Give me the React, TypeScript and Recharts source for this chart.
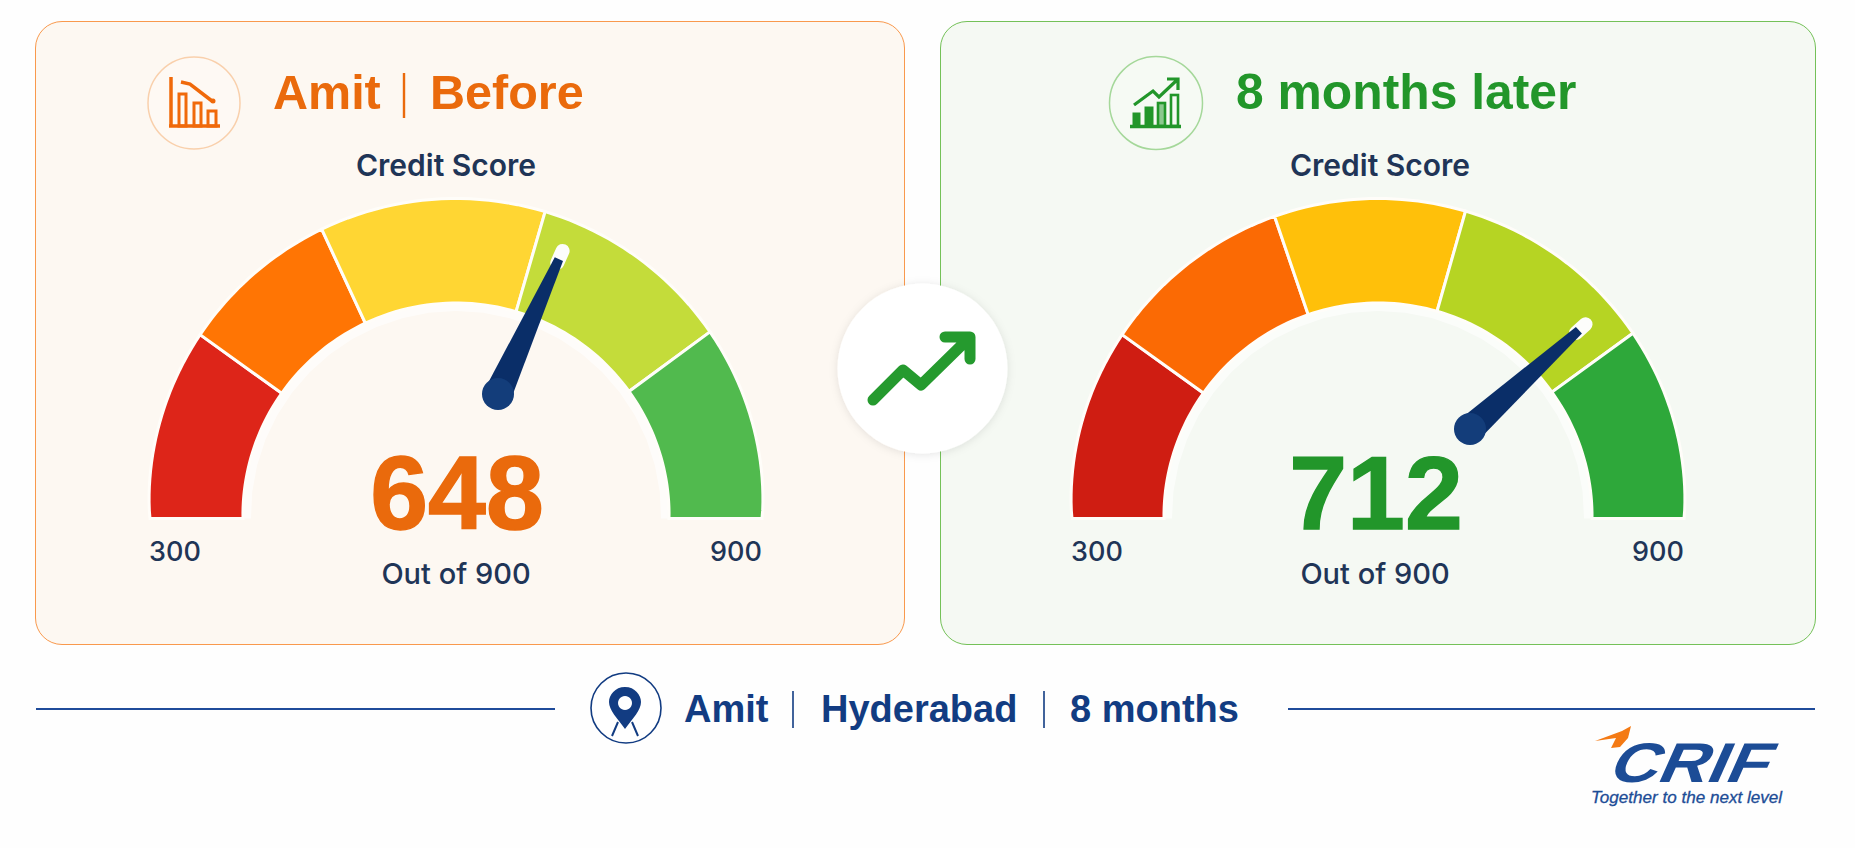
import { Pie, PieChart } from "recharts";

const bandNames = ["Poor", "Fair", "Average", "Good", "Excellent"];
const beforeBandWidths = [119, 98, 137, 125, 121];
const afterBandWidths = [119, 118, 116, 127, 120];
const beforeColors = ["#dd2519", "#ff7504", "#ffd633", "#c4dc3a", "#51ba4e"];
const afterColors = ["#cf1d12", "#fb6a04", "#ffc00a", "#b6d423", "#2ea83a"];
const scoreRange = [600];

const FONT = "Inter, sans-serif";
const ARIAL = "'Liberation Sans', sans-serif";
const NAVY = "#1f3557";
const BLUE = "#123c82";
const ORANGE = "#ea6a0c";
const GREEN = "#22962a";

const toTable = (values: number[], colors: string[]) =>
  values.map((value, i) => ({ name: bandNames[i], value, fill: colors[i] }));

// the arc in the picture is taller than wide and has full shoulders, so the radius grows with the angle
const arcPoints = (cx: number, cy: number, rx: number, ry: number, from: number, to: number) => {
  const pts: string[] = [];
  for (let i = 0; i <= 24; i++) {
    const a = ((from + ((to - from) * i) / 24) * Math.PI) / 180;
    const r = rx + (ry - rx) * Math.abs(Math.sin(a)) ** 0.8;
    pts.push(`${cx + r * Math.cos(a)},${cy - r * Math.sin(a)}`);
  }
  return pts;
};

const gaugeSector = (ryOuter: number, ryInner: number, stroke: string, strokeWidth: number, opacity = 1) => (props: any) => {
  const { cx, cy, innerRadius, outerRadius, startAngle, endAngle, fill } = props;
  const outer = arcPoints(cx, cy, outerRadius, ryOuter, startAngle, endAngle);
  const inner = arcPoints(cx, cy, innerRadius, ryInner, endAngle, startAngle);
  return <path d={`M${outer.join(" L")} L${inner.join(" L")} Z`} fill={fill} fillOpacity={opacity} stroke={stroke} strokeWidth={strokeWidth} />;
};

function Needle({ x, y, angle, length }: { x: number; y: number; angle: number; length: number }) {
  const a = (angle * Math.PI) / 180;
  const ux = Math.cos(a);
  const uy = -Math.sin(a);
  const tipX = x + ux * length;
  const tipY = y + uy * length;
  const side = (px: number, py: number, w: number) => `${px - uy * w},${py + ux * w} ${px + uy * w},${py - ux * w}`;
  return (
    <g>
      <line x1={tipX - ux * 4} y1={tipY - uy * 4} x2={tipX + ux * 9} y2={tipY + uy * 9} stroke="#fdfdfb" strokeWidth={14} strokeLinecap="round" />
      <polygon points={`${side(x, y, 14)} ${side(tipX, tipY, 4.5).split(" ").reverse().join(" ")}`} fill="#0a2e68" />
      <circle cx={x} cy={y} r={16} fill="#133d7a" />
    </g>
  );
}

function Card({ left, width, bg, border }: { left: number; width: number; bg: string; border: string }) {
  return (
    <div
      style={{
        position: "absolute",
        left,
        top: 21,
        width,
        height: 624,
        boxSizing: "border-box",
        background: bg,
        border: `1.6px solid ${border}`,
        borderRadius: 27,
      }}
    />
  );
}

function GaugeText({ cx, scoreX, score, color, lowX, highX }: { cx: number; scoreX: number; score: string; color: string; lowX: number; highX: number }) {
  return (
    <g fontFamily={FONT}>
      <text x={cx} y={176} textAnchor="middle" fontSize={30} fontWeight={600} fill={NAVY}>Credit Score</text>
      <text x={scoreX} y={529} textAnchor="middle" fontFamily={ARIAL} fontSize={104} fontWeight={700} fill={color} stroke={color} strokeWidth={1.4}>{score}</text>
      <text x={lowX} y={561} textAnchor="middle" fontSize={27} fontWeight={500} fill={NAVY}>300</text>
      <text x={highX} y={561} textAnchor="middle" fontSize={27} fontWeight={500} fill={NAVY}>900</text>
      <text x={scoreX - 1} y={584} textAnchor="middle" fontSize={29} fontWeight={500} fill={NAVY}>Out of 900</text>
    </g>
  );
}

const Overlay = () => (
  <svg width={1855} height={848} style={{ position: "absolute", left: 0, top: 0 }}>
    <defs>
      <filter id="soft" x="-20%" y="-20%" width="140%" height="140%">
        <feDropShadow dx="0" dy="1" stdDeviation="4" floodColor="#000" floodOpacity="0.1" />
      </filter>
    </defs>

    {/* left header */}
    <circle cx={194} cy={103} r={46} fill="#fef9f4" stroke="#f9d0ac" strokeWidth={1.5} />
    <g fill="none" stroke="#f0690a" strokeWidth={3}>
      <path d="M171,77 V126 M169,126 H220" strokeWidth={3.5} />
      <rect x={179} y={94} width={7} height={32} />
      <rect x={194} y={103} width={7} height={23} />
      <rect x={208} y={111} width={8} height={15} />
      <path d="M181,82 L190,84 L212,101" strokeWidth={3.5} />
    </g>
    <circle cx={213} cy={101} r={2.5} fill="#f0690a" />
    <text fontFamily={ARIAL} fontSize={48.5} fontWeight={700} fill={ORANGE} y={109}>
      <tspan x={273}>Amit</tspan>
      <tspan x={430}>Before</tspan>
    </text>
    <line x1={404} y1={73} x2={404} y2={118} stroke={ORANGE} strokeWidth={2.4} />

    {/* right header */}
    <circle cx={1156} cy={103} r={46.5} fill="#f6faf4" stroke="#a5d89a" strokeWidth={1.5} />
    <g fill={GREEN} stroke={GREEN}>
      <path d="M1130,126.5 H1181" strokeWidth={3.5} />
      <rect x={1133} y={113} width={7} height={13} strokeWidth={1} />
      <rect x={1145} y={107} width={8} height={19} strokeWidth={1} />
      <rect x={1158} y={103} width={7} height={23} fillOpacity={0.5} strokeWidth={2.6} />
      <rect x={1171} y={95} width={7} height={31} fill="none" strokeWidth={2.6} />
      <path d="M1134,105 L1153,91 L1159,97 L1177,80 M1167,79 H1178 V90" fill="none" strokeWidth={3.2} />
    </g>
    <text x={1236} y={109} fontFamily={ARIAL} fontSize={49.8} fontWeight={700} fill={GREEN}>8 months later</text>

    <GaugeText cx={446} scoreX={457} score="648" color={ORANGE} lowX={175} highX={736} />
    <GaugeText cx={1380} scoreX={1376} score="712" color={GREEN} lowX={1097} highX={1658} />

    <Needle x={498} y={394} angle={65.7} length={148} />
    <Needle x={1470} y={429} angle={42.2} length={147} />

    {/* middle badge */}
    <circle cx={922.5} cy={368.5} r={85} fill="#fff" filter="url(#soft)" />
    <path d="M873,400 L903,370 L921,385 L970,337 M945,337 H970 V359" fill="none" stroke="#259a2e" strokeWidth={11} strokeLinecap="round" strokeLinejoin="round" />

    {/* footer */}
    <line x1={36} y1={709} x2={555} y2={709} stroke="#1f4b9a" strokeWidth={2} />
    <line x1={1288} y1={709} x2={1815} y2={709} stroke="#1f4b9a" strokeWidth={2} />
    <circle cx={626} cy={708} r={35} fill="#fff" stroke={BLUE} strokeWidth={1.6} />
    <path fillRule="evenodd" fill={BLUE} d="M625,687 c-10,0 -16,8 -16,15 c0,8 8,16 16,27 c8,-11 16,-19 16,-27 c0,-7 -6,-15 -16,-15 Z M625,696 a7,7 0 1 0 0.01,0 Z" />
    <path d="M618,722 L612,736 M632,722 L638,736" stroke={BLUE} strokeWidth={2} />
    <text fontFamily={ARIAL} fontSize={38} fontWeight={700} fill={BLUE} y={722}>
      <tspan x={684}>Amit</tspan>
      <tspan x={821}>Hyderabad</tspan>
      <tspan x={1070}>8 months</tspan>
    </text>
    <line x1={793} y1={691} x2={793} y2={728} stroke={BLUE} strokeWidth={1.6} />
    <line x1={1044} y1={691} x2={1044} y2={728} stroke={BLUE} strokeWidth={1.6} />

    {/* logo */}
    <path d="M1595,741 L1622,731 L1631,726 L1628,738 L1620,747 L1611,748 L1616,738 Z" fill="#f47a14" />
    <text transform="translate(1606,782) skewX(-24)" fontFamily={ARIAL} fontWeight={700} fontSize={56} fill="#1c4c96" textLength={158} lengthAdjust="spacingAndGlyphs">CRIF</text>
    <text x={1591} y={803} fontFamily={ARIAL} fontStyle="italic" fontSize={17} fill="#1c4c96" stroke="#1c4c96" strokeWidth={0.3} textLength={191} lengthAdjust="spacingAndGlyphs">Together to the next level</text>
  </svg>
);

export default function App() {
  const bandShape = gaugeSector(320, 215.5, "#fffdf9", 3);
  const haloShape = gaugeSector(215.5, 207.5, "none", 0, 0.6);
  const halo = [{ name: "range", value: scoreRange[0], fill: "#ffffff" }];
  return (
    <div style={{ position: "fixed", left: 0, top: 0, width: 1855, height: 848, background: "#fefefe", overflow: "hidden" }}>
      <Card left={35} width={870} bg="#fdf8f2" border="#f9994d" />
      <Card left={940} width={876} bg="#f5f9f3" border="#74c158" />
      <div style={{ position: "absolute", left: 0, top: 0 }}>
        <PieChart width={1855} height={848} margin={{ top: 0, right: 0, bottom: 0, left: 0 }}>
          <Pie data={halo} dataKey="value" cx={456} cy={518.5} startAngle={180} endAngle={0} innerRadius={205} outerRadius={213} stroke="none" shape={haloShape} isAnimationActive={false} />
          <Pie data={toTable(beforeBandWidths, beforeColors)} dataKey="value" cx={456} cy={518.5} startAngle={180} endAngle={0} innerRadius={213} outerRadius={306} shape={bandShape} isAnimationActive={false} />
          <Pie data={halo} dataKey="value" cx={1378} cy={518.5} startAngle={180} endAngle={0} innerRadius={206} outerRadius={214} stroke="none" shape={haloShape} isAnimationActive={false} />
          <Pie data={toTable(afterBandWidths, afterColors)} dataKey="value" cx={1378} cy={518.5} startAngle={180} endAngle={0} innerRadius={214} outerRadius={306} shape={bandShape} isAnimationActive={false} />
        </PieChart>
      </div>
      <Overlay />
    </div>
  );
}
